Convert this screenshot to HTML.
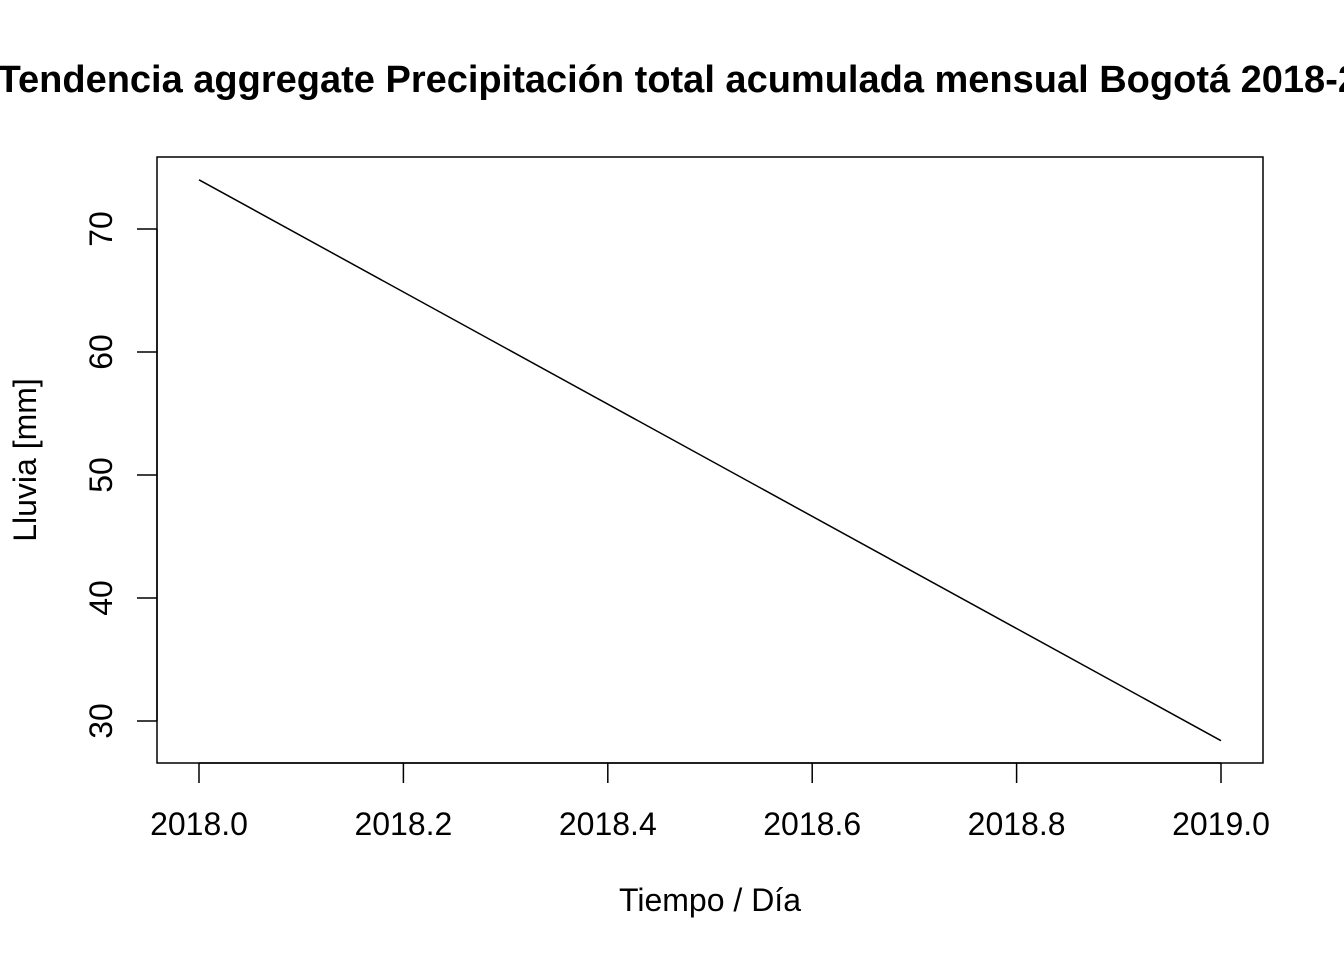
<!DOCTYPE html>
<html><head><meta charset="utf-8"><style>
body{margin:0;background:#fff;width:1344px;height:960px;overflow:hidden}
svg{font-family:"Liberation Sans",Arial,sans-serif}
</style></head><body>
<svg width="1344" height="960">
<text x="710" y="92" text-anchor="middle" font-weight="bold" font-size="38">Tendencia aggregate Precipitación total acumulada mensual Bogotá 2018-2019</text>
<rect x="157" y="157" width="1106" height="606" fill="none" stroke="#000" stroke-width="1.5"/>
<g id="xaxis"></g>
<g id="yaxis"></g>
<g id="series"></g>
<text x="710" y="911" text-anchor="middle" font-size="32">Tiempo / Día</text>
<text transform="translate(36,460) rotate(-90)" text-anchor="middle" font-size="32">Lluvia [mm]</text>
</svg>
<script>
const xTicks=[2018.0,2018.2,2018.4,2018.6,2018.8,2019.0];
const xTickLabels=["2018.0","2018.2","2018.4","2018.6","2018.8","2019.0"];
const yTicks=[30,40,50,60,70];
const seriesX=[2018.0,2019.0];
const seriesY=[74.0,28.4];
const NS="http://www.w3.org/2000/svg";
function xs(v){return 199+(v-2018)*1022;}
function ys(v){return 721-(v-30)*12.3;}
function mk(t,a,p){const e=document.createElementNS(NS,t);for(const k in a)e.setAttribute(k,a[k]);p.appendChild(e);return e;}
const xa=document.getElementById('xaxis'),ya=document.getElementById('yaxis'),sr=document.getElementById('series');
mk('line',{x1:xs(xTicks[0]),x2:xs(xTicks[xTicks.length-1]),y1:763,y2:763,stroke:'#000','stroke-width':1.5},xa);
xTicks.forEach((v,i)=>{
 const l=mk('line',{x1:xs(v),x2:xs(v),y1:763,y2:783,stroke:'#000','stroke-width':1.5},xa);
 
 
 const t=mk('text',{x:xs(v),y:835,'text-anchor':'middle','font-size':32},xa);t.textContent=xTickLabels[i];
 
 
});
mk('line',{x1:157,x2:157,y1:ys(yTicks[0]),y2:ys(yTicks[yTicks.length-1]),stroke:'#000','stroke-width':1.5},ya);
yTicks.forEach(v=>{
 const l=mk('line',{x1:137,x2:157,y1:ys(v),y2:ys(v),stroke:'#000','stroke-width':1.5},ya);
 
 
 const t=mk('text',{transform:`translate(112,${ys(v)}) rotate(-90)`,'text-anchor':'middle','font-size':32},ya);t.textContent=v;
 
 
});
const pl=mk('polyline',{points:seriesX.map((x,i)=>xs(x)+','+ys(seriesY[i])).join(' '),fill:'none',stroke:'#000','stroke-width':1.5},sr);


</script>
</body></html>
